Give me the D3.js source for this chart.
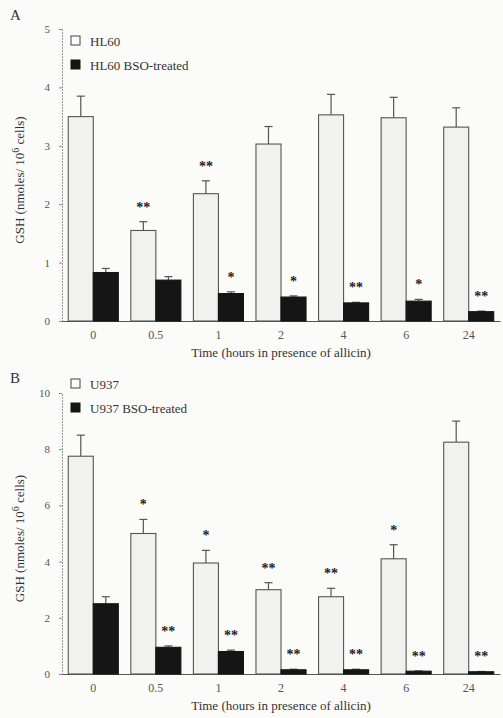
<!DOCTYPE html>
<html>
<head>
    <meta charset="utf-8">
    <title>GSH levels after allicin</title>
    <script src="https://d3js.org/d3.v7.min.js"></script>
    <style>
        body { margin: 0; background: #fbfbf9; }
        svg { display: block; }
        text { font-family: "Liberation Serif", "DejaVu Serif", serif; fill: #333; }
        .tick text { fill: #555; font-size: 11px; }
        .tick line { stroke: #888; }
    </style>
</head>
<body>
    <svg width="503" height="718"></svg>
    <script>
        // categories (hours)
        const times = ["0", "0.5", "1", "2", "4", "6", "24"];

        // panel A: HL60
        const hl60 = [3.5, 1.55, 2.18, 3.03, 3.53, 3.48, 3.32];
        const hl60Err = [0.35, 0.15, 0.22, 0.3, 0.35, 0.35, 0.33];
        const hl60Sig = ["", "**", "**", "", "", "", ""];
        const hl60Bso = [0.83, 0.7, 0.47, 0.41, 0.31, 0.34, 0.16];
        const hl60BsoErr = [0.07, 0.06, 0.03, 0.02, 0.01, 0.03, 0.01];
        const hl60BsoSig = ["", "", "*", "*", "**", "*", "**"];
        const ticksA = [0, 1, 2, 3, 4, 5];

        // panel B: U937
        const u937 = [7.75, 5.0, 3.95, 3.0, 2.75, 4.1, 8.25];
        const u937Err = [0.75, 0.5, 0.45, 0.25, 0.3, 0.5, 0.75];
        const u937Sig = ["", "*", "*", "**", "**", "*", ""];
        const u937Bso = [2.5, 0.95, 0.8, 0.15, 0.15, 0.1, 0.08];
        const u937BsoErr = [0.25, 0.05, 0.05, 0.02, 0.02, 0.01, 0.01];
        const u937BsoSig = ["", "**", "**", "**", "**", "**", "**"];
        const ticksB = [0, 2, 4, 6, 8, 10];

        const svg = d3.select("svg");

        function drawPanel(p) {
            const g = svg.append("g");

            const x = d3.scaleBand()
                .domain(times)
                .range([62, 500])
                .paddingInner(0.2)
                .paddingOuter(0.1);
            const x1 = d3.scaleBand()
                .domain(["ctrl", "bso"])
                .range([0, x.bandwidth()]);
            const y = d3.scaleLinear()
                .domain([0, p.max])
                .range([p.y0, p.yTop]);

            // y axis
            const yAxis = g.append("g")
                .attr("transform", "translate(62,0)")
                .call(d3.axisLeft(y).tickValues(p.ticks).tickFormat(d3.format("d")).tickSize(3).tickPadding(9));
            yAxis.select(".domain").attr("stroke", "#999").attr("stroke-dasharray", "2,1");

            // x axis (line only, labels below)
            const xAxis = g.append("g")
                .attr("transform", `translate(0,${p.y0})`)
                .call(d3.axisBottom(x).tickSize(0).tickPadding(9));
            xAxis.select(".domain").attr("stroke", "#555").attr("stroke-width", 1.2);
            xAxis.selectAll(".tick text").style("font-size", "12px");

            const series = [
                { key: "ctrl", vals: p.ctrl, err: p.ctrlErr, sig: p.ctrlSig, fill: "#f1f1ef", stroke: "#555" },
                { key: "bso", vals: p.bso, err: p.bsoErr, sig: p.bsoSig, fill: "#151515", stroke: "#151515" }
            ];

            series.forEach(s => {
                const rows = times.map((t, i) => ({ t, v: s.vals[i], e: s.err[i], sig: s.sig[i] }));
                const cx = d => x(d.t) + x1(s.key) + x1.bandwidth() / 2;

                // error bars
                g.selectAll(null).data(rows).enter().append("line")
                    .attr("x1", cx).attr("x2", cx)
                    .attr("y1", d => y(d.v)).attr("y2", d => y(d.v + d.e))
                    .attr("stroke", "#555").attr("stroke-width", 1.2);
                g.selectAll(null).data(rows).enter().append("line")
                    .attr("x1", d => cx(d) - 4).attr("x2", d => cx(d) + 4)
                    .attr("y1", d => y(d.v + d.e)).attr("y2", d => y(d.v + d.e))
                    .attr("stroke", "#555").attr("stroke-width", 1.2);

                // bars
                g.selectAll(null).data(rows).enter().append("rect")
                    .attr("x", d => x(d.t) + x1(s.key))
                    .attr("y", d => y(d.v))
                    .attr("width", x1.bandwidth())
                    .attr("height", d => p.y0 - y(d.v))
                    .attr("fill", s.fill)
                    .attr("stroke", s.stroke)
                    .attr("stroke-width", 1.1);

                // significance stars
                g.selectAll(null).data(rows.filter(d => d.sig)).enter().append("text")
                    .attr("x", cx)
                    .attr("y", d => y(d.v + d.e) - 10)
                    .attr("text-anchor", "middle")
                    .style("font-size", "14px")
                    .style("font-weight", "bold")
                    .style("fill", "#222")
                    .text(d => d.sig);
            });

            // legend
            p.legend.forEach((name, i) => {
                const ly = p.legendY + i * 24;
                g.append("rect")
                    .attr("x", 71).attr("y", ly - 10)
                    .attr("width", 9).attr("height", 9)
                    .attr("fill", i === 0 ? "#fbfbf9" : "#151515")
                    .attr("stroke", i === 0 ? "#444" : "#151515");
                g.append("text")
                    .attr("x", 90).attr("y", ly)
                    .style("font-size", "13px")
                    .text(name);
            });

            // panel letter
            g.append("text")
                .attr("x", 10).attr("y", p.letterY)
                .style("font-size", "15px")
                .text(p.letter);

            // axis titles
            g.append("text")
                .attr("x", 281).attr("y", p.y0 + 36)
                .attr("text-anchor", "middle")
                .style("font-size", "13px")
                .text("Time (hours in presence of allicin)");

            const yt = g.append("text")
                .attr("transform", `translate(24,${(p.y0 + p.yTop) / 2 + 5}) rotate(-90)`)
                .attr("text-anchor", "middle")
                .style("font-size", "13px");
            yt.append("tspan").text("GSH (nmoles/ 10");
            yt.append("tspan").attr("dy", -5).style("font-size", "10px").text("6");
            yt.append("tspan").attr("dy", 5).text(" cells)");
        }

        drawPanel({
            letter: "A", letterY: 20,
            max: 5, ticks: ticksA, y0: 321, yTop: 29,
            ctrl: hl60, ctrlErr: hl60Err, ctrlSig: hl60Sig,
            bso: hl60Bso, bsoErr: hl60BsoErr, bsoSig: hl60BsoSig,
            legend: ["HL60", "HL60 BSO-treated"], legendY: 46
        });

        drawPanel({
            letter: "B", letterY: 383,
            max: 10, ticks: ticksB, y0: 674, yTop: 393,
            ctrl: u937, ctrlErr: u937Err, ctrlSig: u937Sig,
            bso: u937Bso, bsoErr: u937BsoErr, bsoSig: u937BsoSig,
            legend: ["U937", "U937 BSO-treated"], legendY: 389
        });
    </script>
</body>
</html>
